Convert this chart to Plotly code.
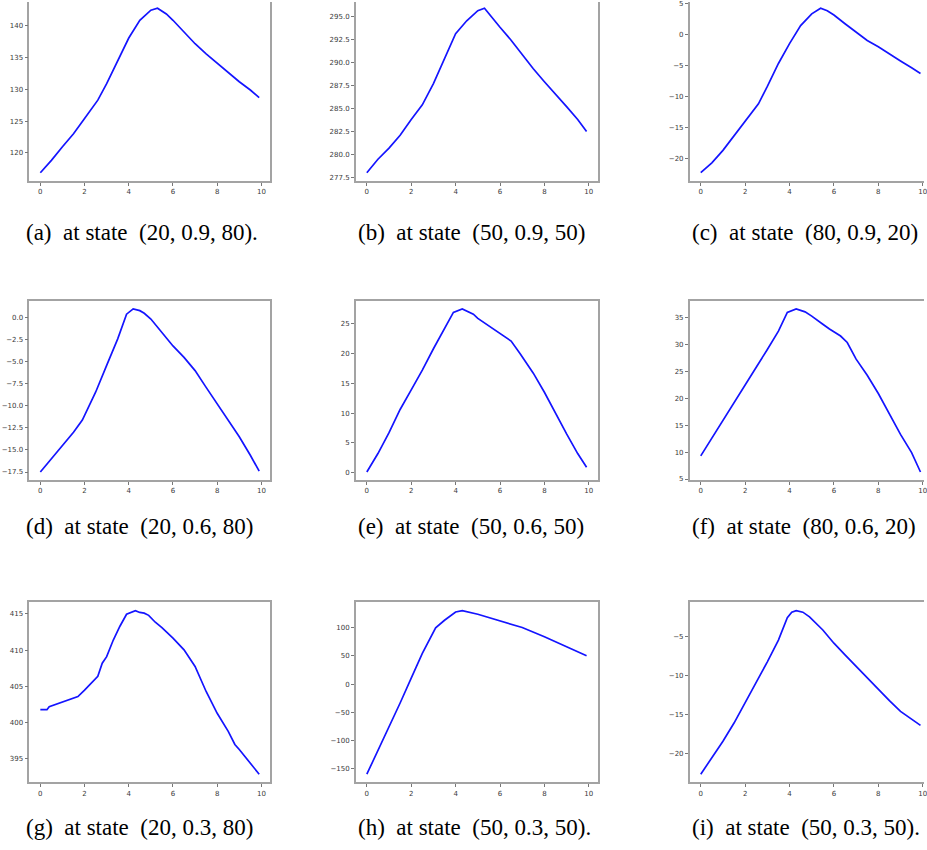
import plotly.graph_objects as go

W, H = 927, 850

# ---------------- data ----------------
a_x = [0, 0.5, 1, 1.5, 2, 2.6, 3, 3.5, 4, 4.5, 5, 5.3, 5.7, 6, 6.5, 7, 7.5, 8, 8.5, 9, 9.5, 9.9]
a_y = [116.85, 118.8, 120.95, 123.0, 125.4, 128.3, 130.9, 134.6, 138.1, 140.9, 142.5, 142.8, 141.9,
       140.9, 139.0, 137.2, 135.6, 134.1, 132.6, 131.2, 129.9, 128.7]

b_x = [0, 0.5, 1, 1.5, 2, 2.5, 3, 3.5, 4, 4.5, 5, 5.3, 5.5, 6, 6.5, 7, 7.5, 8, 8.5, 9, 9.5, 9.9]
b_y = [278.04, 279.5, 280.7, 282.1, 283.8, 285.4, 287.7, 290.4, 293.1, 294.5, 295.6, 295.86, 295.25,
       293.8, 292.4, 290.8, 289.3, 287.9, 286.6, 285.2, 283.8, 282.5]

c_x = [0, 0.5, 1, 1.5, 2, 2.6, 3, 3.5, 4, 4.5, 5, 5.4, 5.7, 6, 6.5, 7, 7.5, 8, 8.5, 9, 9.5, 9.9]
c_y = [-22.3, -20.7, -18.7, -16.4, -14.0, -11.2, -8.4, -4.7, -1.5, 1.4, 3.3, 4.2, 3.8, 3.1, 1.7,
       0.4, -1.0, -2.0, -3.2, -4.3, -5.4, -6.3]

d_x = [0, 0.5, 1, 1.5, 1.9, 2.5, 3, 3.5, 3.9, 4.2, 4.5, 4.7, 5, 5.5, 6, 6.5, 7, 7.5, 8, 8.5, 9, 9.5, 9.9]
d_y = [-17.5, -16.0, -14.5, -13.0, -11.6, -8.45, -5.4, -2.4, 0.4, 1.0, 0.8, 0.5, -0.15, -1.7, -3.2,
       -4.5, -6.0, -7.9, -9.8, -11.7, -13.5, -15.6, -17.4]

e_x = [0, 0.5, 1, 1.5, 2, 2.5, 3, 3.5, 3.9, 4.3, 4.8, 5, 5.5, 6, 6.5, 6.9, 7.5, 8, 8.5, 9, 9.5, 9.9]
e_y = [0.1, 3.2, 6.7, 10.6, 13.9, 17.2, 20.8, 24.2, 26.9, 27.5, 26.6, 25.9, 24.6, 23.3, 22.1, 20.0,
       16.7, 13.5, 9.9, 6.5, 3.2, 0.9]

f_x = [0, 0.5, 1, 1.5, 2, 2.5, 3, 3.5, 3.9, 4.3, 4.7, 5, 5.5, 5.8, 6.3, 6.6, 7, 7.5, 8, 8.5, 9, 9.5, 9.9]
f_y = [9.3, 12.65, 16.0, 19.2, 22.5, 25.8, 29.1, 32.5, 36.0, 36.65, 36.1, 35.3, 33.8, 32.9, 31.6,
       30.4, 27.3, 24.3, 20.9, 17.0, 13.3, 9.9, 6.3]

g_x = [0, 0.3, 0.4, 0.7, 1, 1.3, 1.5, 1.7, 2, 2.3, 2.6, 2.8, 3, 3.3, 3.6, 3.9, 4.1, 4.3, 4.5, 4.7,
       4.9, 5.2, 5.5, 6, 6.5, 7, 7.5, 8, 8.5, 8.8, 9, 9.5, 9.9]
g_y = [401.8, 401.8, 402.2, 402.5, 402.85, 403.2, 403.4, 403.6, 404.5, 405.5, 406.4, 408.2, 409.1,
       411.4, 413.3, 414.95, 415.2, 415.45, 415.2, 415.1, 414.8, 413.85, 413.1, 411.65, 410.05,
       407.75, 404.3, 401.3, 398.8, 397.0, 396.3, 394.45, 392.9]

h_x = [0, 0.5, 1, 1.5, 2, 2.5, 3.1, 3.5, 4, 4.3, 5, 6, 7, 8, 9, 9.9]
h_y = [-160, -118.8, -77.6, -33.5, 10.6, 54.7, 100, 113.5, 128.2, 130.6, 124.1, 112.4, 100.6,
       84.1, 66.5, 50.6]

i_x = [0, 0.5, 1, 1.5, 2, 2.5, 3, 3.5, 3.9, 4.1, 4.3, 4.6, 4.9, 5.5, 6, 6.5, 7, 7.5, 8, 8.5, 9, 9.5, 9.9]
i_y = [-22.7, -20.6, -18.45, -16.1, -13.5, -11.0, -8.2, -5.4, -2.5, -1.8, -1.6, -1.8, -2.4, -4.1,
       -5.8, -7.3, -8.8, -10.3, -11.8, -13.2, -14.6, -15.6, -16.4]

x_ticks = [0, 2, 4, 6, 8, 10]
a_ticks = [120, 125, 130, 135, 140]
b_ticks = [277.5, 280, 282.5, 285, 287.5, 290, 292.5, 295]
c_ticks = [-20, -15, -10, -5, 0, 5]
d_ticks = [-17.5, -15, -12.5, -10, -7.5, -5, -2.5, 0]
e_ticks = [0, 5, 10, 15, 20, 25]
f_ticks = [5, 10, 15, 20, 25, 30, 35]
g_ticks = [395, 400, 405, 410, 415]
h_ticks = [-150, -100, -50, 0, 50, 100]
i_ticks = [-20, -15, -10, -5]

captions = [
    "(a)  at state  (20, 0.9, 80).",
    "(b)  at state  (50, 0.9, 50)",
    "(c)  at state  (80, 0.9, 20)",
    "(d)  at state  (20, 0.6, 80)",
    "(e)  at state  (50, 0.6, 50)",
    "(f)  at state  (80, 0.6, 20)",
    "(g)  at state  (20, 0.3, 80)",
    "(h)  at state  (50, 0.3, 50).",
    "(i)  at state  (50, 0.3, 50).",
]

series = [(a_x, a_y, a_ticks, ""), (b_x, b_y, b_ticks, ".1f"), (c_x, c_y, c_ticks, ""),
          (d_x, d_y, d_ticks, ".1f"), (e_x, e_y, e_ticks, ""), (f_x, f_y, f_ticks, ""),
          (g_x, g_y, g_ticks, ""), (h_x, h_y, h_ticks, ""), (i_x, i_y, i_ticks, "")]

# ---------------- layout geometry (pixels) ----------------
col_px = [(29.5, 271.0), (357.0, 599.5), (692.0, 934.5)]
row_px = [(-2.0, 180.0), (300.5, 481.0), (604.0, 785.0)]
cap_x = [24, 357, 692]
cap_y = [232, 528, 830]

SPINE = "#a3a3a3"
TICKFONT = dict(family="DejaVu Sans", size=7, color="#3a3a3a")

fig = go.Figure()
layout = dict(width=W, height=H, margin=dict(l=0, r=0, t=0, b=0),
              paper_bgcolor="white", plot_bgcolor="white", showlegend=False)
annotations = []

for k, (xs, ys, yt, fmt) in enumerate(series):
    r, c = divmod(k, 3)
    n = "" if k == 0 else str(k + 1)
    # matplotlib-like 5% margins
    x0, x1 = min(xs), max(xs)
    px = 0.05 * (x1 - x0)
    xlo, xhi = x0 - px, x1 + px
    y0, y1 = min(ys), max(ys)
    py = 0.05 * (y1 - y0)
    ylo, yhi = y0 - py, y1 + py

    L, R = col_px[c]
    T, B = row_px[r]
    # clip to the page and adjust visible ranges
    Rv = min(R, W)
    xhi_v = xlo + (xhi - xlo) * (Rv - L) / (R - L)
    Tv = max(T, 0)
    yhi_v = yhi - (yhi - ylo) * (Tv - T) / (B - T)

    fig.add_trace(go.Scatter(x=xs, y=ys, mode="lines", xaxis="x" + n, yaxis="y" + n,
                             line=dict(color="#1414ff", width=1.7), hoverinfo="skip",
                             cliponaxis=True))

    layout["xaxis" + n] = dict(
        domain=[L / W, Rv / W], anchor="y" + n, range=[xlo, xhi_v],
        tickmode="array", tickvals=x_ticks, ticks="outside", ticklen=3, tickwidth=1,
        tickcolor="#777777", tickfont=TICKFONT, showgrid=False, zeroline=False,
        ticklabeloverflow="allow",
        showline=True, linecolor=SPINE, linewidth=1.6, mirror=(r != 0))
    layout["yaxis" + n] = dict(
        domain=[1 - B / H, 1 - Tv / H], anchor="x" + n, range=[ylo, yhi_v],
        tickmode="array", tickvals=yt, tickformat=fmt, ticks="outside", ticklen=3,
        tickwidth=1, tickcolor="#777777", tickfont=TICKFONT, showgrid=False,
        ticklabeloverflow="allow",
        zeroline=False, showline=True, linecolor=SPINE, linewidth=1.6, mirror=(c != 2))

    annotations.append(dict(
        text=captions[k], xref="paper", yref="paper", x=cap_x[c] / W, y=1 - cap_y[r] / H,
        xanchor="left", yanchor="middle", showarrow=False,
        font=dict(family="Liberation Serif", size=23, color="black")))

layout["annotations"] = annotations
fig.update_layout(**layout)
fig.write_html("out.html", config={"displayModeBar": False},
               post_script="document.body.style.margin='0';document.body.style.overflow='hidden';")
